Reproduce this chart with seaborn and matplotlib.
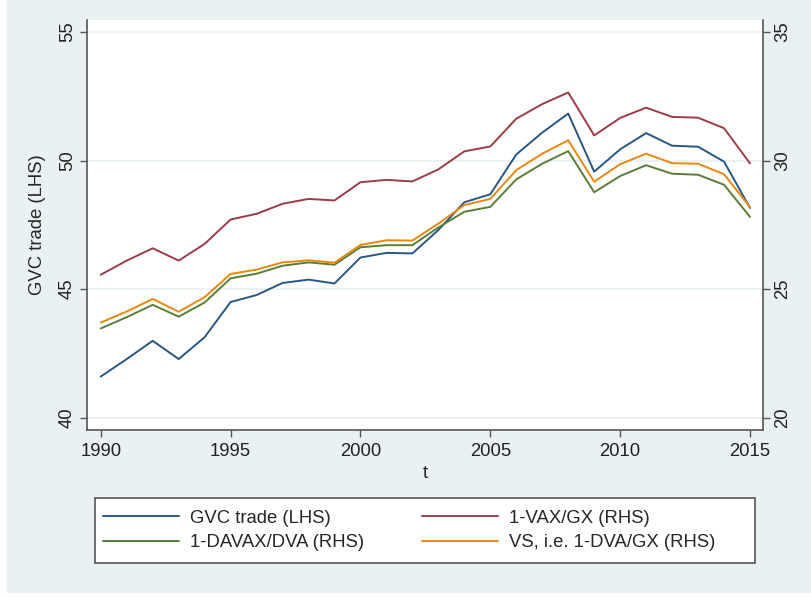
import numpy as np
import pandas as pd
import seaborn as sns
import matplotlib
matplotlib.use("Agg")
import matplotlib.pyplot as plt
from matplotlib.patches import Rectangle

years = list(range(1990, 2016))

# LHS
gvc_trade = [41.60, 42.28, 42.99, 42.28, 43.13, 44.50, 44.77, 45.24, 45.37, 45.22,
             46.23, 46.41, 46.39, 47.30, 48.38, 48.69, 50.24, 51.09, 51.83, 49.57,
             50.44, 51.07, 50.58, 50.54, 49.96, 48.16]
# RHS
vax_gx = [25.56, 26.11, 26.59, 26.11, 26.76, 27.71, 27.93, 28.32, 28.51, 28.45,
          29.16, 29.25, 29.19, 29.66, 30.36, 30.55, 31.63, 32.20, 32.65, 30.98,
          31.66, 32.06, 31.70, 31.67, 31.26, 29.89]
davax_dva = [23.47, 23.91, 24.39, 23.93, 24.48, 25.42, 25.60, 25.91, 26.04, 25.95,
             26.63, 26.71, 26.71, 27.40, 28.01, 28.20, 29.27, 29.88, 30.37, 28.77,
             29.40, 29.82, 29.49, 29.45, 29.06, 27.81]
vs_dva_gx = [23.70, 24.13, 24.62, 24.12, 24.69, 25.59, 25.76, 26.04, 26.12, 26.03,
             26.72, 26.90, 26.89, 27.55, 28.27, 28.51, 29.63, 30.27, 30.79, 29.18,
             29.86, 30.27, 29.90, 29.88, 29.47, 28.19]

labels = ["GVC trade (LHS)", "1-VAX/GX (RHS)", "1-DAVAX/DVA (RHS)", "VS, i.e. 1-DVA/GX (RHS)"]
colors = ["#285784", "#9c3c46", "#5a7e35", "#ea870f"]

df = pd.DataFrame({"t": years, labels[0]: gvc_trade, labels[1]: vax_gx,
                   labels[2]: davax_dva, labels[3]: vs_dva_gx})

sns.set_style("white")
plt.rcParams["font.family"] = ["Liberation Sans", "DejaVu Sans"]
fs = 13.3
plt.rcParams["font.size"] = fs

bg = "#e9f1f3"
axcol = "#555555"
W, H = 812, 597
fig = plt.figure(figsize=(W / 100, H / 100), dpi=100)
fig.patch.set_facecolor("white")
fig.patches.append(Rectangle((7 / W, 5 / H), 1 - 7 / W, 1 - 5 / H,
                             transform=fig.transFigure, color=bg, zorder=-10))

ax = fig.add_axes([87 / W, (H - 430) / H, (763 - 87) / W, (430 - 20) / H])
ax.set_facecolor("white")
ax2 = ax.twinx()

lw = 1.4
sns.lineplot(data=df, x="t", y=labels[0], ax=ax, color=colors[0], lw=lw, label=labels[0], legend=False)
for i in [1, 2, 3]:
    sns.lineplot(data=df, x="t", y=labels[i], ax=ax2, color=colors[i], lw=lw, label=labels[i], legend=False)

ax.set_xlim(1989.47, 2015.5)
ax.set_ylim(39.52, 55.47)
ax2.set_ylim(19.52, 35.47)
ax.set_xticks([1990, 1995, 2000, 2005, 2010, 2015])
ax.set_yticks([40, 45, 50, 55])
ax2.set_yticks([20, 25, 30, 35])

ax.grid(axis="y", color=bg, lw=1.3)
ax.set_axisbelow(True)

for a in (ax, ax2):
    a.spines["top"].set_visible(False)
    for s in ["left", "right", "bottom"]:
        a.spines[s].set_color(axcol)
        a.spines[s].set_linewidth(1.2)
    a.tick_params(colors="#222222", length=5, width=1, direction="out", labelsize=fs)
    a.tick_params(axis="both", which="both", color=axcol)
ax.spines["right"].set_visible(False)
ax2.spines["left"].set_visible(False)
ax2.spines["bottom"].set_visible(False)

ax.tick_params(axis="y", left=True, labelrotation=90, pad=3)
ax2.tick_params(axis="y", right=True, labelrotation=90, pad=3)
ax.tick_params(axis="x", bottom=True, pad=4)
for t in ax.get_yticklabels() + ax2.get_yticklabels():
    t.set_va("center")

ax.set_ylabel("GVC trade (LHS)", labelpad=9, fontsize=fs)
ax2.set_ylabel("")
ax.set_xlabel("t", labelpad=4, fontsize=fs)

# legend frame drawn as a plain box, entries placed inside it
fig.patches.append(Rectangle((95 / W, (H - 563) / H), (755 - 95) / W, 65 / H,
                             transform=fig.transFigure, facecolor="white",
                             edgecolor=axcol, lw=1.2, zorder=1))
handles = ax.get_lines()[:1] + ax2.get_lines()
order = [0, 2, 1, 3]
leg = fig.legend([handles[i] for i in order], [labels[i] for i in order],
                 loc="center left", bbox_to_anchor=(103 / W, (H - 530.5) / H),
                 ncol=2, frameon=False, handlelength=76 / 18.5, handletextpad=0.6,
                 labelspacing=0.42, borderpad=0, borderaxespad=0,
                 columnspacing=3.12, fontsize=fs)
leg.set_zorder(2)

fig.savefig("out.png", dpi=100, facecolor=fig.get_facecolor())
